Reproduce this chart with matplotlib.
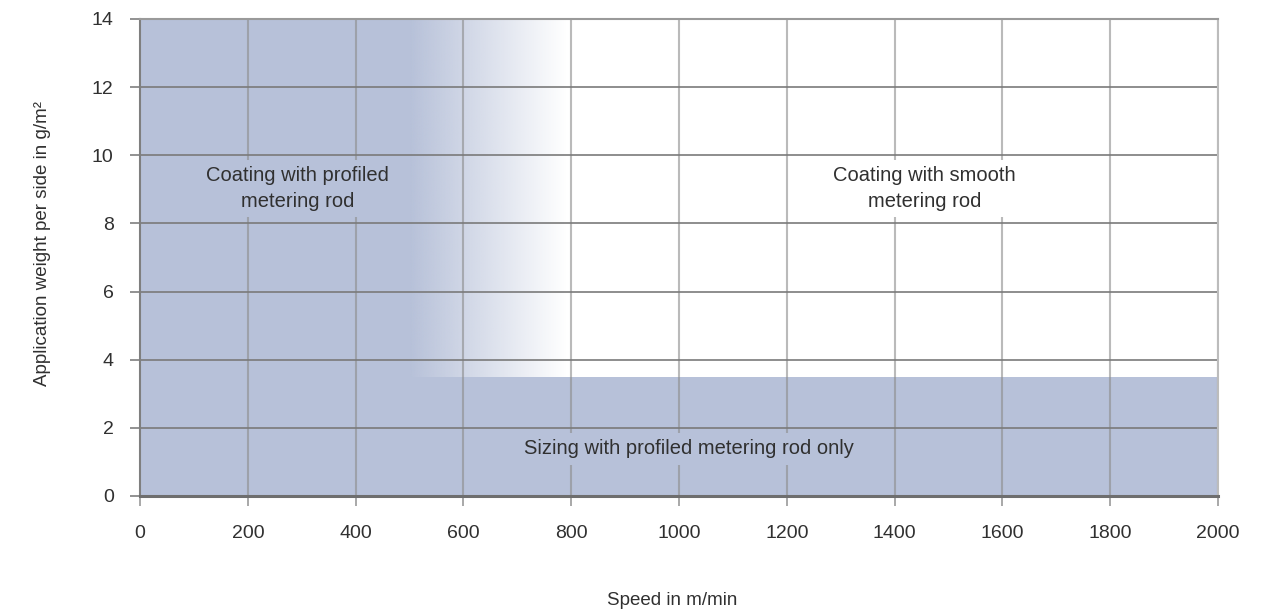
import matplotlib
matplotlib.use("Agg")
import matplotlib.pyplot as plt
import numpy as np

plt.rcParams["font.family"] = ["Liberation Sans", "DejaVu Sans"]

# region boundaries
speed_max = 2000
weight_max = 14
sizing_top = 3.5          # g/m2, upper limit of sizing band
profiled_solid_end = 500  # m/min, profiled coating fully valid up to here
profiled_fade_end = 790   # m/min, fades out to here

x_ticks = [0, 200, 400, 600, 800, 1000, 1200, 1400, 1600, 1800, 2000]
y_ticks = [0, 2, 4, 6, 8, 10, 12, 14]

labels = [
    (292, 9.02, "Coating with profiled\nmetering rod"),
    (1455, 9.02, "Coating with smooth\nmetering rod"),
    (1018, 1.38, "Sizing with profiled metering rod only"),
]

fill = "#b7c1d9"
text_col = "#303030"

fig = plt.figure(figsize=(12.72, 6.10), dpi=100)
ax = fig.add_axes([0.1101, 0.1869, 0.8474, 0.7820])

# sizing band across all speeds
ax.fill_between([0, speed_max], 0, sizing_top, color=fill, lw=0, zorder=0)
# profiled coating block
ax.fill_between([0, profiled_solid_end], sizing_top, weight_max, color=fill, lw=0, zorder=0)
# fade-out zone
rgb = matplotlib.colors.to_rgb(fill)
grad = np.zeros((2, 256, 4))
grad[..., :3] = rgb
grad[..., 3] = np.linspace(1, 0, 256)[None, :]
ax.imshow(grad, extent=[profiled_solid_end, profiled_fade_end, sizing_top, weight_max],
          aspect="auto", interpolation="bilinear", zorder=0)

ax.set_xlim(0, speed_max)
ax.set_ylim(0, weight_max)
ax.set_xticks(x_ticks)
ax.set_yticks(y_ticks)

# grid: horizontal darker on top of labels, vertical lighter under them
for y in y_ticks[1:]:
    ax.axhline(y, color="#7a7a7a", lw=1.2, zorder=3)
for x in x_ticks[1:]:
    ax.axvline(x, color="#8c8c8c", lw=1.5, alpha=0.6, zorder=1)

for x, y, t in labels:
    bg = "white" if (x > profiled_fade_end and y > sizing_top) else fill
    ax.text(x, y, t, ha="center", va="center", fontsize=14.5, color=text_col,
            linespacing=1.5, zorder=2,
            bbox=dict(boxstyle="square,pad=0.3", fc=bg, ec="none"))

for s in ["left", "bottom", "top", "right"]:
    ax.spines[s].set_zorder(4)
ax.spines["left"].set_color("#7f7f7f")
ax.spines["left"].set_linewidth(1.5)
ax.spines["bottom"].set_color("#6e6e6e")
ax.spines["bottom"].set_linewidth(2.2)
ax.spines["top"].set_color("#9a9a9a")
ax.spines["top"].set_linewidth(1.5)
ax.spines["right"].set_color("#bcbcbc")
ax.spines["right"].set_linewidth(1.5)

ax.tick_params(axis="both", length=7, width=1.2, color="#9a9a9a",
               labelsize=14, labelcolor=text_col)
ax.tick_params(axis="x", pad=14)
ax.tick_params(axis="y", color="#7f7f7f", pad=12)

ax.set_xlabel("Speed in m/min", fontsize=13.5, color=text_col)
ax.set_ylabel("Application weight per side in g/m²", fontsize=13.5, color=text_col)
ax.xaxis.set_label_coords(0.494, -0.202)
ax.yaxis.set_label_coords(-0.083, 0.53)

fig.savefig("out.png", dpi=100)
